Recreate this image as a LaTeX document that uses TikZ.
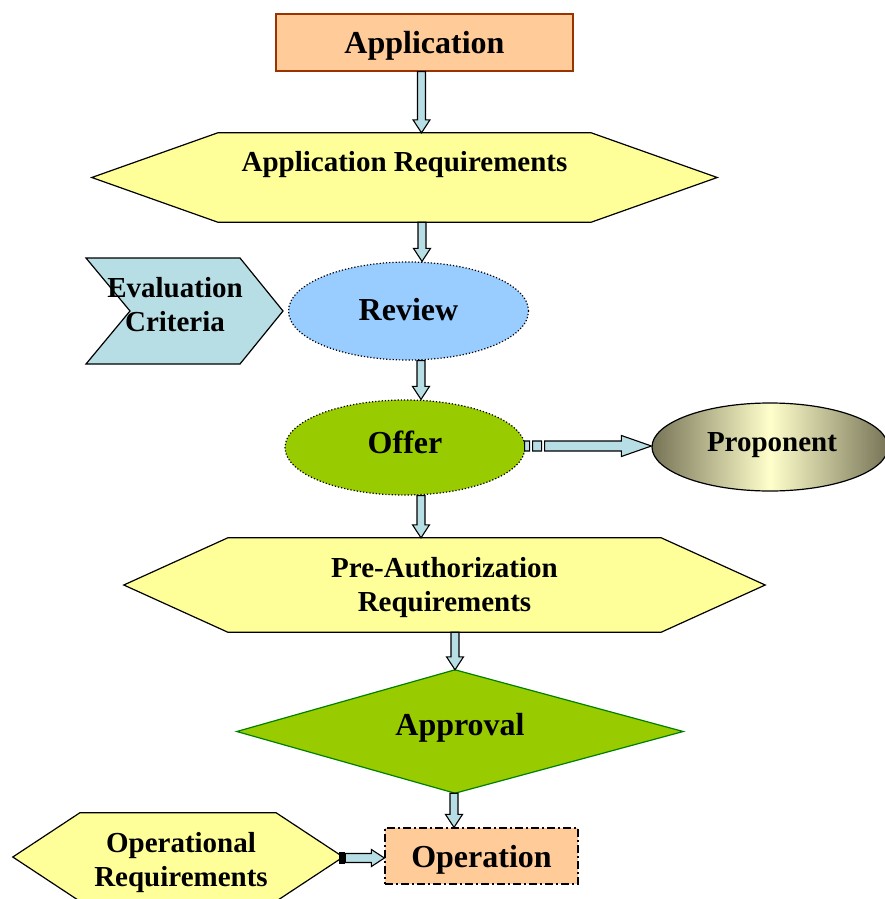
\documentclass[tikz,border=0pt]{standalone}
\usepackage{fontspec}
\setmainfont{Liberation Serif}
\usetikzlibrary{shapes.geometric,calc}
\definecolor{peach}{RGB}{255,204,153}
\definecolor{brownb}{RGB}{153,51,0}
\definecolor{lyellow}{RGB}{255,255,153}
\definecolor{lblue}{RGB}{153,204,255}
\definecolor{lgreen}{RGB}{153,204,0}
\definecolor{dgreen}{RGB}{0,128,0}
\definecolor{acyan}{RGB}{183,222,228}
\definecolor{olivedk}{RGB}{118,116,86}
\definecolor{pale}{RGB}{255,255,204}
\tikzset{
  big/.style={font=\fontsize{32}{36}\selectfont\bfseries},
  small/.style={font=\fontsize{29}{34}\selectfont\bfseries, align=center},
  frame/.style={draw=none, inner sep=0pt},
  outl/.style={line width=1.2pt},
  hexfill/.style={outl, draw=black, fill=lyellow, line join=miter},
  barrow/.style={draw=black, fill=acyan, line width=1.1pt, line join=miter},
  ellnode/.style={ellipse, outl, draw=black, dotted, inner sep=0pt},
}
\newcommand{\varrow}[3]{%
  \draw[barrow] let \p1=(#2), \p2=(#3) in
    (#1pt-4pt,\y1) -- (#1pt-4pt,\y2+13pt) -- (#1pt-8.5pt,\y2+13pt) -- (#1pt,\y2)
    -- (#1pt+8.5pt,\y2+13pt) -- (#1pt+4pt,\y2+13pt) -- (#1pt+4pt,\y1) -- cycle;}
\begin{document}
\begin{tikzpicture}[x=1pt,y=-1pt]
\useasboundingbox (0,0) rectangle (885,899);

% Application
\node[rectangle, outl, draw=brownb, fill=peach, minimum width=297, minimum height=57, inner sep=0pt,
  label={[big,yshift=-3.5pt]center:Application}] (app) at (424.5,42.5) {};

% Application Requirements hexagon
\node[frame, minimum width=625, minimum height=89] (ar) at (404.5,177.5) {};
\draw[hexfill] (ar.west) -- ([xshift=126pt]ar.north west) -- ([xshift=-126pt]ar.north east) -- (ar.east)
  -- ([xshift=-126pt]ar.south east) -- ([xshift=126pt]ar.south west) -- cycle;
\node[small] (artxt) at (404.5,165) {Application Requirements};

% Evaluation Criteria chevron
\draw[outl, draw=black, fill=acyan, line join=miter] (86,258) -- (240,258) -- (283,311) -- (240,364) -- (86,364) -- (130,311) -- cycle;
\node[small] (evc) at (175,305) {Evaluation\\Criteria};

% Review
\node[ellnode, fill=lblue, minimum width=240, minimum height=98,
  label={[big,yshift=1pt]center:Review}] (rev) at (408.5,311) {};

% Offer
\node[ellnode, fill=lgreen, minimum width=240, minimum height=95,
  label={[big,yshift=5pt]center:Offer}] (off) at (405,447.5) {};

% Proponent
\node[ellipse, outl, draw=black, inner sep=0pt, left color=olivedk, right color=olivedk, middle color=pale,
  minimum width=236, minimum height=88, label={[small,yshift=2pt,xshift=2pt]center:Proponent}] (prop) at (770,447) {};

% Pre-Authorization Requirements hexagon
\node[frame, minimum width=641, minimum height=94] (pa) at (444.5,585) {};
\draw[hexfill] (pa.west) -- ([xshift=104pt]pa.north west) -- ([xshift=-104pt]pa.north east) -- (pa.east)
  -- ([xshift=-104pt]pa.south east) -- ([xshift=104pt]pa.south west) -- cycle;
\node[small] (patxt) at (444.5,587.5) {Pre-Authorization\\Requirements};

% Approval diamond
\node[frame, minimum width=446, minimum height=123] (apv) at (460,731.5) {};
\draw[outl, draw=dgreen, fill=lgreen, line join=miter] ([xshift=-5pt]apv.north) -- (apv.east) -- ([xshift=-5pt]apv.south) -- (apv.west) -- cycle;
\node[big] (apvtxt) at (460,727.5) {Approval};

% Operation
\node[rectangle, outl, draw=black, dash pattern=on 8pt off 3pt on 2pt off 3pt, fill=peach, minimum width=193, minimum height=56, inner sep=0pt,
  label={[big,yshift=-4pt]center:Operation}] (opn) at (481.5,856) {};

% Operational Requirements hexagon
\node[frame, minimum width=330, minimum height=88] (opr) at (178,857) {};
\draw[hexfill] (opr.west) -- ([xshift=67pt]opr.north west) -- ([xshift=-67pt]opr.north east) -- (opr.east)
  -- ([xshift=-67pt]opr.south east) -- ([xshift=67pt]opr.south west) -- cycle;
\node[small] (oprtxt) at (181,863) {Operational\\Requirements};

% vertical block arrows
\varrow{421.5}{app.south}{ar.north}
\varrow{422}{ar.south}{rev.north}
\varrow{421}{rev.south}{off.north}
\varrow{421}{off.south}{pa.north}
\varrow{455}{pa.south}{apv.north}
\varrow{454}{apv.south}{opn.north}

% Offer -> Proponent
\draw[barrow] let \p1=(off.east), \p2=(prop.west) in
  (\x1-1pt,\y1-3.5pt) rectangle (\x1+4pt,\y1+6.5pt)
  (\x1+7pt,\y1-3.5pt) rectangle (\x1+16pt,\y1+6.5pt)
  (\x1+19pt,\y1-3.5pt) -- (\x2-30pt,\y1-3.5pt) -- (\x2-30pt,\y1-9pt) -- (\x2,\y1+1.5pt)
  -- (\x2-30pt,\y1+12pt) -- (\x2-30pt,\y1+6.5pt) -- (\x1+19pt,\y1+6.5pt) -- cycle;

% Operational Requirements -> Operation
\draw[barrow, fill=black] let \p1=(opr.east) in
  (\x1-4pt,\y1-6.5pt) rectangle (\x1+1pt,\y1+4.5pt);
\draw[barrow] let \p1=(opr.east), \p2=(opn.west) in
  (\x1+2pt,\y1-5.5pt) -- (\x2-13pt,\y1-5.5pt) -- (\x2-13pt,\y1-9.5pt) -- (\x2,\y1-1pt)
  -- (\x2-13pt,\y1+7.5pt) -- (\x2-13pt,\y1+3.5pt) -- (\x1+2pt,\y1+3.5pt) -- cycle;
\end{tikzpicture}
\end{document}
